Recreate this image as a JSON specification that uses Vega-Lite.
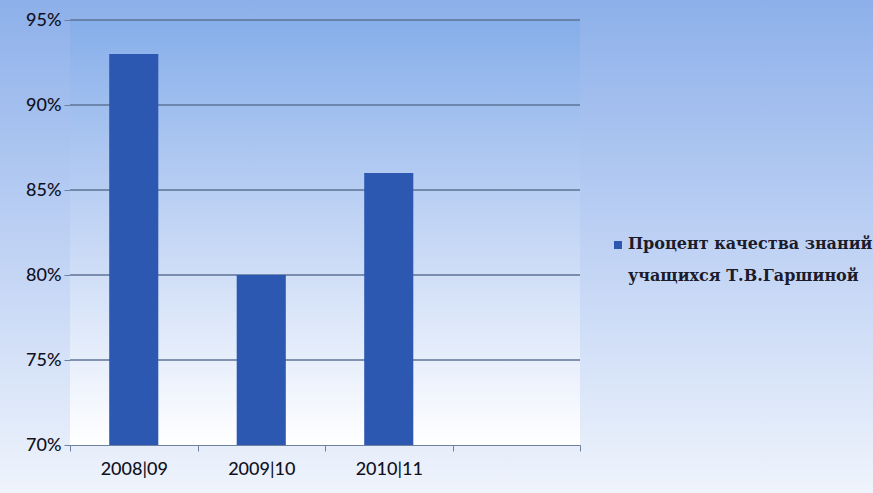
{
  "$schema": "https://vega.github.io/schema/vega-lite/v6.json",
  "autosize": "none",
  "width": 873,
  "height": 493,
  "padding": 0,
  "background": "#eef3fc",
  "layer": [
    {
      "data": {"values": [{"panel": "plot"}]},
      "mark": {"type": "rect",
        "fill": {"gradient": "linear", "x1": 0, "y1": 0, "x2": 0, "y2": 1,
          "stops": [{"offset": 0, "color": "#86aeea"}, {"offset": 0.5, "color": "#c4d6f5"}, {"offset": 1, "color": "#ffffff"}]}},
      "encoding": {
        "x": {"datum": "2008|09", "type": "nominal", "bandPosition": 0},
        "x2": {"datum": "-", "bandPosition": 1},
        "y": {"datum": 0.70, "type": "quantitative"},
        "y2": {"datum": 0.95}
      }
    },
    {
      "data": {"values": [{"tick": 0.75}, {"tick": 0.80}, {"tick": 0.85}, {"tick": 0.90}, {"tick": 0.95}]},
      "mark": {"type": "rule", "color": "#5d7396", "strokeWidth": 1.3},
      "encoding": {
        "x": {"datum": "2008|09", "type": "nominal", "bandPosition": 0},
        "x2": {"datum": "-", "bandPosition": 1},
        "y": {"field": "tick", "type": "quantitative"}
      }
    },
    {
      "data": {"values": [
        {"year": "2008|09", "value": 0.93, "series": "Процент качества знаний учащихся Т.В.Гаршиной"},
        {"year": "2009|10", "value": 0.80, "series": "Процент качества знаний учащихся Т.В.Гаршиной"},
        {"year": "2010|11", "value": 0.86, "series": "Процент качества знаний учащихся Т.В.Гаршиной"}
      ]},
      "mark": {"type": "bar", "width": {"band": 0.385}},
      "encoding": {
        "x": {"field": "year", "type": "nominal"},
        "y": {"field": "value", "type": "quantitative"},
        "y2": {"datum": 0.70},
        "color": {
          "field": "series", "type": "nominal",
          "scale": {"range": ["#2c58b1"]},
          "legend": {
            "title": null, "orient": "none", "legendX": 610, "legendY": 237,
            "symbolType": "square", "symbolSize": 64, "symbolOpacity": 1,
            "labelFont": "DejaVu Serif", "labelFontWeight": "bold", "labelFontSize": 16,
            "labelColor": "#1b1b2b", "labelLimit": 400, "labelOffset": 2,
            "labelBaseline": "top",
            "labelExpr": "['Процент качества знаний', 'учащихся Т.В.Гаршиной']",
            "encode": {"labels": {"update": {"lineHeight": {"value": 32}, "dy": {"value": -9}}}}
          }
        }
      }
    }
  ],
  "resolve": {"scale": {"x": "shared", "y": "shared"}},
  "encoding": {
    "x": {
      "type": "nominal",
      "scale": {"domain": ["2008|09", "2009|10", "2010|11", "-"], "paddingInner": 0, "paddingOuter": 0, "range": [70, 580]},
      "axis": {
        "title": null, "labelAngle": 0, "tickBand": "extent", "grid": false, "offset": -48,
        "labelExpr": "datum.value == '-' ? '' : datum.value",
        "labelFont": "Lato", "labelFontSize": 18, "labelFontWeight": 500, "labelColor": "#111122", "labelPadding": 9,
        "domainColor": "#6f819c", "tickColor": "#6f819c", "tickSize": 6
      }
    },
    "y": {
      "type": "quantitative",
      "scale": {"domain": [0.70, 0.95], "nice": false, "zero": false, "range": [445, 20]},
      "axis": {
        "title": null, "format": ".0%", "values": [0.70, 0.75, 0.80, 0.85, 0.90, 0.95], "offset": -70,
        "grid": false,
        "labelFont": "Lato", "labelFontSize": 18, "labelFontWeight": 500, "labelColor": "#111122", "labelPadding": 3,
        "domainColor": "#6f819c", "tickColor": "#6f819c", "tickSize": 6
      }
    }
  },
  "config": {
    "view": {
      "stroke": null,
      "fill": {"gradient": "linear", "x1": 0, "y1": 0, "x2": 0, "y2": 1,
        "stops": [{"offset": 0, "color": "#8db0ea"}, {"offset": 0.5, "color": "#bfd2f4"}, {"offset": 1, "color": "#eff4fc"}]}
    }
  }
}
